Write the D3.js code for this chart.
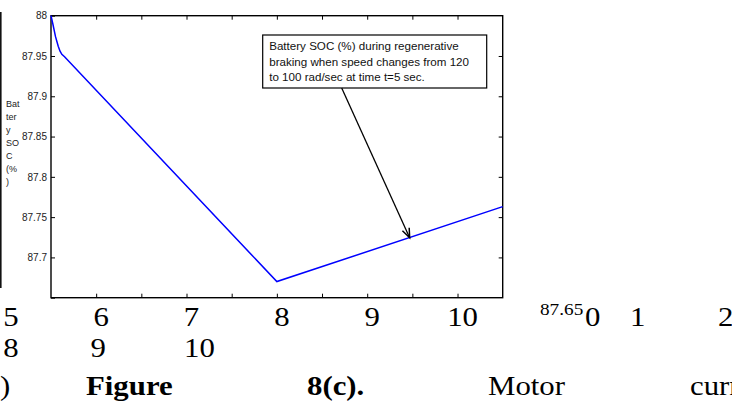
<!DOCTYPE html>
<html><head><meta charset="utf-8">
<script src="https://cdn.jsdelivr.net/npm/d3@7"></script>
<style>body{margin:0;background:#fff} svg{display:block}</style>
</head><body><svg id="c" width="732" height="401"></svg>
<script>
// ---- data ----
const timeS  = [5.5, 5.52, 5.55, 5.58, 5.6, 5.62, 5.65, 8.0, 10.5];
const socPct = [88, 87.99, 87.974, 87.962, 87.956, 87.952, 87.949, 87.67, 87.763];
const xTicks = [5.5, 6, 6.5, 7, 7.5, 8, 8.5, 9, 9.5, 10, 10.5];
const yTicks = [87.65, 87.7, 87.75, 87.8, 87.85, 87.9, 87.95, 88];
const yTickLabels = ["", "87.7", "87.75", "87.8", "87.85", "87.9", "87.95", "88"];
const yLabelLines = ["Bat", "ter", "y", "SO", "C", "(%", ")"];
const annotationLines = ["Battery SOC (%) during regenerative",
  "braking when speed changes from 120",
  "to 100 rad/sec at time t=5 sec."];
const annotationTarget = [9.47, 87.7245];
const pageRow1 = ["5", "6", "7", "8", "9", "10"];
const pageRow2 = ["8", "9", "10"];
const pageRow1Right = ["0", "1", "2"];
const pageSup = "87.65";
const pageRow3 = [")", "Figure", "8(c).", "Motor", "curr"];

// ---- layout ----
const svg = d3.select("#c");
const L = 51, R = 502.7, T = 15.7, B = 297.7;
const x = d3.scaleLinear().domain([5.5, 10.5]).range([L, R]);
const y = d3.scaleLinear().domain([87.65, 88]).range([B, T]);

// left page rule
svg.append("line").attr("x1", 0.8).attr("x2", 0.8).attr("y1", 12).attr("y2", 288)
  .attr("stroke", "#111").attr("stroke-width", 1.6);

// axes with inward ticks
const axStyle = g => {
  g.selectAll(".domain").remove();
  g.selectAll(".tick line").attr("stroke", "#000").attr("stroke-width", 1);
};
svg.append("g").attr("transform", `translate(0,${B})`)
  .call(d3.axisBottom(x).tickValues(xTicks.slice(1, -1)).tickSize(-4).tickFormat(""))
  .call(axStyle);
svg.append("g").attr("transform", `translate(0,${T})`)
  .call(d3.axisTop(x).tickValues(xTicks.slice(1, -1)).tickSize(-4).tickFormat(""))
  .call(axStyle);
svg.append("g").attr("transform", `translate(${R},0)`)
  .call(d3.axisRight(y).tickValues(yTicks.slice(1, -1)).tickSize(-4).tickFormat(""))
  .call(axStyle);
const yl = svg.append("g").attr("transform", `translate(${L},0)`)
  .call(d3.axisLeft(y).tickValues(yTicks).tickSize(-4).tickPadding(4)
    .tickFormat((d, i) => yTickLabels[i]))
  .call(axStyle);
yl.selectAll("text").attr("font-family", "Arial, 'Liberation Sans', sans-serif")
  .attr("font-size", 10).attr("fill", "#222");

// box
svg.append("rect").attr("x", L).attr("y", T).attr("width", R - L).attr("height", B - T)
  .attr("fill", "none").attr("stroke", "#000").attr("stroke-width", 1.4);

// curve
const pts = timeS.map((t, i) => [t, socPct[i]]);
svg.append("path").datum(pts)
  .attr("d", d3.line().x(d => x(d[0])).y(d => y(d[1])))
  .attr("fill", "none").attr("stroke", "#0000ff").attr("stroke-width", 1.5);

// y label (stacked)
const ylab = svg.append("text").attr("font-family", "Arial, 'Liberation Sans', sans-serif")
  .attr("font-size", 9).attr("fill", "#222");
yLabelLines.forEach((s, i) => {
  ylab.append("tspan").attr("x", 6).attr("y", 107 + i * 13).text(s);
});

// annotation box
const bx = 262.7, by = 35, bw = 224, bh = 53;
svg.append("rect").attr("x", bx).attr("y", by).attr("width", bw).attr("height", bh)
  .attr("fill", "#fff").attr("stroke", "#000").attr("stroke-width", 1.2);
const at = svg.append("text").attr("font-family", "Arial, 'Liberation Sans', sans-serif")
  .attr("font-size", 11.6).attr("fill", "#111");
annotationLines.forEach((s, i) => {
  at.append("tspan").attr("x", bx + 6.5).attr("y", by + 15 + i * 15.5).text(s);
});
// arrow
const ax0 = 341.7, ay0 = by + bh;
const ax1 = x(annotationTarget[0]), ay1 = y(annotationTarget[1]);
svg.append("line").attr("x1", ax0).attr("y1", ay0).attr("x2", ax1).attr("y2", ay1)
  .attr("stroke", "#000").attr("stroke-width", 1.3);
const ang = Math.atan2(ay1 - ay0, ax1 - ax0), hl = 10, hw = 0.38;
svg.append("path")
  .attr("d", `M${ax1 - hl * Math.cos(ang - hw)},${ay1 - hl * Math.sin(ang - hw)} L${ax1},${ay1} L${ax1 - hl * Math.cos(ang + hw)},${ay1 - hl * Math.sin(ang + hw)}`)
  .attr("fill", "none").attr("stroke", "#000").attr("stroke-width", 1.5);

// page text (Times), slightly widened like the scanned page
const serif = "'Times New Roman', 'Liberation Serif', serif";
const pg = svg.append("g").attr("font-family", serif).attr("fill", "#000");
const put = (px, py, s, size, anchor, bold) =>
  pg.append("text").attr("transform", `translate(${px},${py}) scale(1.1,1)`)
    .attr("text-anchor", anchor).attr("font-size", size)
    .attr("font-weight", bold ? "bold" : "normal").text(s);
pageRow1.forEach(s => put(x(+s) + 5, 326, s, 28, "middle", false));
pageRow2.forEach((s, i) => put(x(+pageRow1[i]) + 5 + [0, -3, 8][i], 357, s, 28, "middle", false));
put(540, 315, pageSup, 17.5, "start", false);
[585, 630, 718].forEach((px, i) => put(px, 326, pageRow1Right[i], 28, "start", false));
const r3x = [0, 86, 307, 488, 690];
pageRow3.forEach((s, i) => put(r3x[i], 395, s, 28, "start", i === 1 || i === 2));
</script></body></html>
